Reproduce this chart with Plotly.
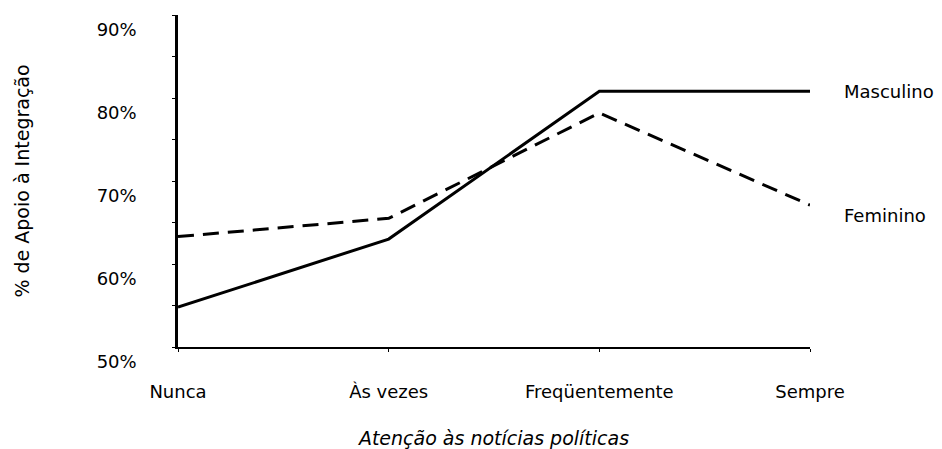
import plotly.graph_objects as go

categories = ["Nunca", "Às vezes", "Freqüentemente", "Sempre"]
masculino = [54.8, 63.0, 80.8, 80.8]
feminino = [63.3, 65.5, 78.2, 67.1]
y_ticks = [50, 60, 70, 80, 90]
y_ticklabels = ["50%", "60%", "70%", "80%", "90%"]

FONT = "DejaVu Sans, Liberation Sans, Arial, sans-serif"

fig = go.Figure()
fig.add_trace(go.Scatter(x=[0, 1, 2, 3], y=masculino, mode="lines", name="Masculino",
                         line=dict(color="black", width=3)))
fig.add_trace(go.Scatter(x=[0, 1, 2, 3], y=feminino, mode="lines", name="Feminino",
                         line=dict(color="black", width=3, dash="16px,9px")))

fig.add_annotation(x=3, y=masculino[-1], text="Masculino", showarrow=False,
                   xanchor="left", xshift=32, font=dict(family=FONT, size=18, color="black"))
fig.add_annotation(x=3, y=feminino[-1], text="Feminino", showarrow=False,
                   xanchor="left", yshift=-10, xshift=32, font=dict(family=FONT, size=18, color="black"))

fig.update_layout(
    width=942, height=449,
    margin=dict(l=178, r=132, t=15, b=102),
    paper_bgcolor="white", plot_bgcolor="white",
    showlegend=False,
    font=dict(family=FONT, size=18, color="black"),
    xaxis=dict(range=[0, 3], tickvals=[0, 1, 2, 3], ticktext=categories,
               showline=True, linecolor="black", linewidth=2, showgrid=False, zeroline=False,
               ticks="outside", ticklen=3, tickcolor="black", ticklabelstandoff=24,
               tickfont=dict(size=18), automargin=False,
               title=dict(text="<i>Atenção às notícias políticas</i>", font=dict(size=19), standoff=35)),
    yaxis=dict(range=[50, 90], tickvals=y_ticks, ticktext=y_ticklabels,
               showline=True, linecolor="black", linewidth=2.5, showgrid=False, zeroline=False,
               ticks="outside", ticklen=3, tickcolor="black", automargin=False,
               ticklabelstandoff=32, ticklabelshift=15, tickfont=dict(size=18),
               ticklabeloverflow="allow",
               minor=dict(ticks="outside", dtick=5, ticklen=3, tickcolor="black"),
               title=dict(text="% de Apoio à Integração", font=dict(size=19), standoff=62)),
)

fig.write_html("out.html", config={"displayModeBar": False},
               post_script="document.body.style.margin='0';")
